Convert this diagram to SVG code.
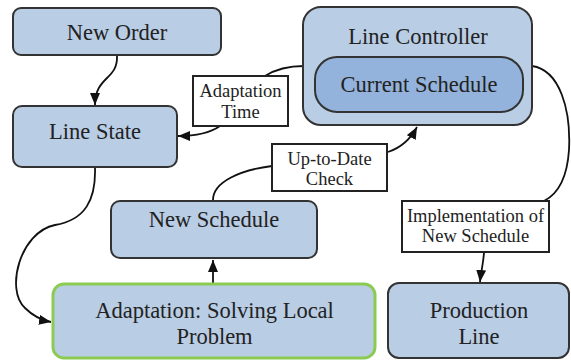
<svg xmlns="http://www.w3.org/2000/svg" width="571" height="361" viewBox="0 0 571 361">
<defs>
<marker id="arr" markerUnits="userSpaceOnUse" markerWidth="12" markerHeight="10" refX="12" refY="5" orient="auto">
<path d="M0,0 L12,5 L0,10 z" fill="#111"/>
</marker>
<style>
.node{fill:#b9cde5;stroke:#333;stroke-width:2}
.inner{fill:#93b3dc;stroke:#333;stroke-width:2}
.lbl{fill:#fff;stroke:#222;stroke-width:2}
.t{font-family:"Liberation Serif","Times New Roman",serif;font-size:22.5px;fill:#222;text-anchor:middle}
.s{font-family:"Liberation Serif","Times New Roman",serif;font-size:18.5px;fill:#222;text-anchor:middle}
.c{fill:none;stroke:#111;stroke-width:1.8}
</style>
</defs>
<rect width="571" height="361" fill="#fff"/>
<g id="connectors">
<path class="c" d="M117,56 C118,80 95,76 95,105" marker-end="url(#arr)"/>
<path class="c" d="M304,66 C290,66 276,69 265,76"/>
<path class="c" d="M220,126 C210,133 196,136 178,136" marker-end="url(#arr)"/>
<path class="c" d="M95,168 C96,200 85,220 55,225 C20,232 5,290 25,308 C32,315 40,320 51,322" marker-end="url(#arr)"/>
<path class="c" d="M213,200 C213,182 240,170 272,166"/>
<path class="c" d="M388,152 C400,148 410,140 417,127" marker-end="url(#arr)"/>
<path class="c" d="M532,66 C560,70 571,110 569,150 C567,180 556,195 544,201"/>
<path class="c" d="M484,253 C483,265 481,272 480,282" marker-end="url(#arr)"/>
<path class="c" d="M213,283 L213,260" marker-end="url(#arr)"/>
</g>
<g id="new-order">
<rect class="node" x="13" y="8" width="208" height="47" rx="8"/>
<text class="t" x="117" y="40">New Order</text>
</g>
<g id="line-state">
<rect class="node" x="13" y="106" width="164" height="61" rx="9"/>
<text class="t" x="95" y="139">Line State</text>
</g>
<g id="line-controller">
<rect class="node" x="303" y="7" width="229" height="118" rx="18"/>
<text class="t" x="418" y="44">Line Controller</text>
</g>
<g id="current-schedule">
<rect class="inner" x="315" y="57" width="208" height="55" rx="22"/>
<text class="t" x="419" y="92">Current Schedule</text>
</g>
<g id="adaptation-time">
<rect class="lbl" x="193" y="76" width="95" height="50"/>
<text class="s" x="240.5" y="97">Adaptation</text>
<text class="s" x="240.5" y="118">Time</text>
</g>
<g id="up-to-date-check">
<rect class="lbl" x="272" y="144" width="115" height="47"/>
<text class="s" x="329.5" y="165">Up-to-Date</text>
<text class="s" x="329.5" y="185">Check</text>
</g>
<g id="new-schedule">
<rect class="node" x="111" y="201" width="206" height="57" rx="9"/>
<text class="t" x="214" y="227">New Schedule</text>
</g>
<g id="implementation">
<rect class="lbl" x="402" y="201" width="147" height="51"/>
<text class="s" x="475.5" y="222">Implementation of</text>
<text class="s" x="475.5" y="242">New Schedule</text>
</g>
<g id="adaptation">
<rect x="53" y="284" width="322" height="74" rx="11" fill="#b9cde5" stroke="#8ccb52" stroke-width="3"/>
<text class="t" x="214.5" y="318">Adaptation: Solving Local</text>
<text class="t" x="214.5" y="344">Problem</text>
</g>
<g id="production-line">
<rect class="node" x="388" y="283" width="181" height="75" rx="11"/>
<text class="t" x="479" y="318">Production</text>
<text class="t" x="479" y="344">Line</text>
</g>
</svg>
